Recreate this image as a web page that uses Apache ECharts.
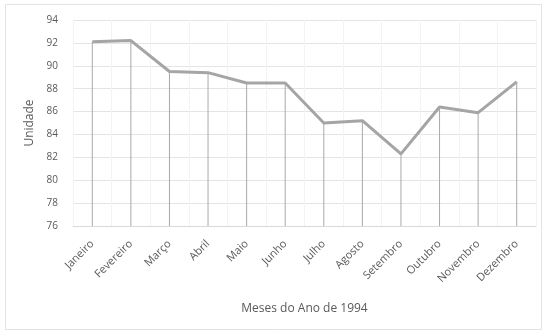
<!DOCTYPE html>
<html>
<head>
<meta charset="utf-8">
<script src="https://cdn.jsdelivr.net/npm/echarts@6/dist/echarts.min.js"></script>
<style>html,body{margin:0;padding:0;background:#fff;}#c{width:545px;height:332px;}</style>
</head>
<body>
<div id="c"></div>
<script>
const categories = ['Janeiro','Fevereiro','Março','Abril','Maio','Junho','Julho','Agosto','Setembro','Outubro','Novembro','Dezembro'];
const values = [92.1, 92.2, 89.5, 89.4, 88.5, 88.5, 85.0, 85.2, 82.3, 86.4, 85.9, 88.6];
const yTicks = {min: 76, max: 94, interval: 2};
const xTitle = 'Meses do Ano de 1994';
const yTitle = 'Unidade';

const chart = echarts.init(document.getElementById('c'), null, {renderer: 'canvas'});
chart.setOption({
  animation: false,
  backgroundColor: '#fff',
  textStyle: {fontFamily: 'Open Sans, Liberation Sans, sans-serif'},
  graphic: [{type: 'rect', shape: {x: 5.5, y: 4.5, width: 536, height: 325}, style: {fill: 'none', stroke: '#e3e3e3', lineWidth: 1}, silent: true}],
  grid: {left: 73, right: 9, top: 20, bottom: 106},
  xAxis: {
    type: 'category', data: categories, boundaryGap: true,
    axisLine: {show: true, lineStyle: {color: '#d9d9d9'}},
    axisTick: {show: false},
    splitLine: {show: true, lineStyle: {color: '#f3f3f3'}},
    axisLabel: {rotate: 45, color: '#595959', fontSize: 11, margin: 16, interval: 0},
    name: xTitle, nameLocation: 'middle', nameGap: 77,
    nameTextStyle: {color: '#595959', fontSize: 12}
  },
  yAxis: {
    type: 'value', min: yTicks.min, max: yTicks.max, interval: yTicks.interval,
    axisLine: {show: false}, axisTick: {show: false},
    splitLine: {lineStyle: {color: '#e4e4e4'}},
    axisLabel: {color: '#595959', fontSize: 10, margin: 15},
    name: yTitle, nameLocation: 'middle', nameGap: 34, nameRotate: 90,
    nameTextStyle: {color: '#595959', fontSize: 12}
  },
  series: [
    {type: 'bar', data: values, barWidth: 1, itemStyle: {color: '#a9a9a9'}, z: 1, silent: true},
    {type: 'line', data: values, symbol: 'none', lineStyle: {color: '#a5a5a5', width: 3}, z: 3}
  ]
});
</script>
</body>
</html>
